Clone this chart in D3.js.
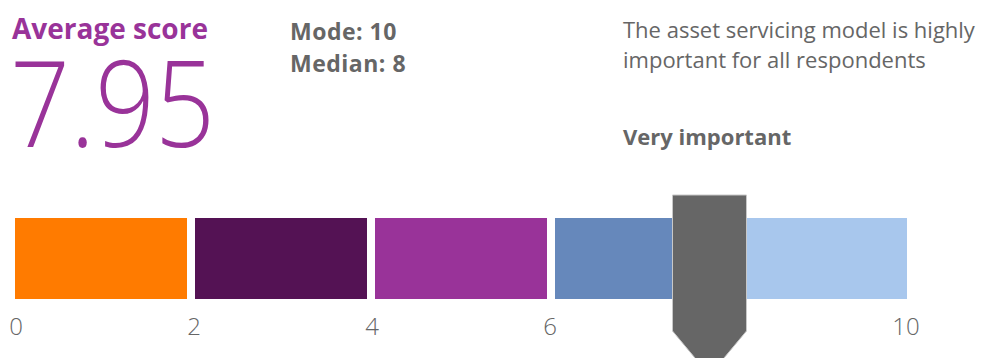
<!DOCTYPE html>
<meta charset="utf-8">
<style>
    body { margin: 0; background: #fff; }
    text { font-family: "Open Sans", "Noto Sans", sans-serif; }
</style>

<div class="gauge"></div>

<script src="https://cdn.jsdelivr.net/npm/d3@7/dist/d3.min.js"></script>

<script>
    // data
    var bandStarts = [0, 2, 4, 6, 8];
    var bandEnds = [2, 4, 6, 8, 10];
    var bandColors = ['#ff7b00', '#541254', '#993399', '#6688bb', '#a8c7ed'];
    var tickValues = [0, 2, 4, 6, 10];
    var score = 7.95;
    var mode = 10;
    var median = 8;
    var title = 'Average score';
    var note = ['The asset servicing model is highly', 'important for all respondents'];
    var verdict = 'Very important';

    var width = 984, height = 358,
        barTop = 218, barHeight = 81,
        gap = 8;

    var svg = d3.select('.gauge')
        .append('svg')
        .attr('width', width)
        .attr('height', height);

    var x = d3.scaleLinear()
        .domain([0, 10])
        .range([15, 915]);

    // tick labels sit a touch left of the band edges in the original
    var xLabel = d3.scaleLinear()
        .domain([0, 10])
        .range([16, 906]);

    var bands = bandStarts.map(function(d, i) {
        return {start: d, end: bandEnds[i], color: bandColors[i]};
    });

    svg.selectAll('rect.band')
        .data(bands)
        .enter().append('rect')
        .attr('class', 'band')
        .attr('x', function(d) { return x(d.start); })
        .attr('y', barTop)
        .attr('width', function(d) { return x(d.end) - x(d.start) - gap; })
        .attr('height', barHeight)
        .attr('fill', function(d) { return d.color; });

    svg.selectAll('text.tick')
        .data(tickValues)
        .enter().append('text')
        .attr('class', 'tick')
        .attr('x', function(d) { return xLabel(d); })
        .attr('y', 335)
        .attr('text-anchor', 'middle')
        .attr('font-size', 24)
        .attr('font-weight', 300)
        .attr('fill', '#666')
        .text(function(d) { return d; });

    // pointer (drawn a little left of the score in the original)
    var pointerOffset = -21, halfW = 37;
    var px = x(score) + pointerOffset;
    var pointer = d3.path();
    pointer.moveTo(px - halfW, 195);
    pointer.lineTo(px + halfW, 195);
    pointer.lineTo(px + halfW, 331);
    pointer.lineTo(px, 331 + halfW * 1.2);
    pointer.lineTo(px - halfW, 331);
    pointer.closePath();
    svg.append('path')
        .attr('d', pointer.toString())
        .attr('fill', '#666')
        .attr('stroke', '#c8c8c8')
        .attr('stroke-width', 1);

    // headline text
    svg.append('text')
        .attr('x', 12)
        .attr('y', 39)
        .attr('font-size', 28)
        .attr('font-weight', 700)
        .attr('fill', '#993399')
        .text(title);

    // big number is a condensed face in the original, so squeeze it
    svg.append('text')
        .attr('x', 10)
        .attr('y', 147)
        .attr('font-size', 120)
        .attr('font-weight', 300)
        .attr('textLength', 205)
        .attr('lengthAdjust', 'spacingAndGlyphs')
        .attr('fill', '#993399')
        .text(d3.format('.2f')(score));

    svg.append('text')
        .attr('x', 290)
        .attr('y', 40)
        .attr('font-size', 23)
        .attr('font-weight', 700)
        .attr('letter-spacing', 0.5)
        .attr('fill', '#666')
        .text('Mode: ' + mode);

    svg.append('text')
        .attr('x', 290)
        .attr('y', 72)
        .attr('font-size', 23)
        .attr('font-weight', 700)
        .attr('letter-spacing', 0.5)
        .attr('fill', '#666')
        .text('Median: ' + median);

    svg.selectAll('text.note')
        .data(note)
        .enter().append('text')
        .attr('class', 'note')
        .attr('x', 623)
        .attr('y', function(d, i) { return 38 + i * 30; })
        .attr('font-size', 22)
        .attr('fill', '#666')
        .text(function(d) { return d; });

    svg.append('text')
        .attr('x', 623)
        .attr('y', 145)
        .attr('font-size', 22)
        .attr('font-weight', 700)
        .attr('fill', '#666')
        .text(verdict);
</script>
